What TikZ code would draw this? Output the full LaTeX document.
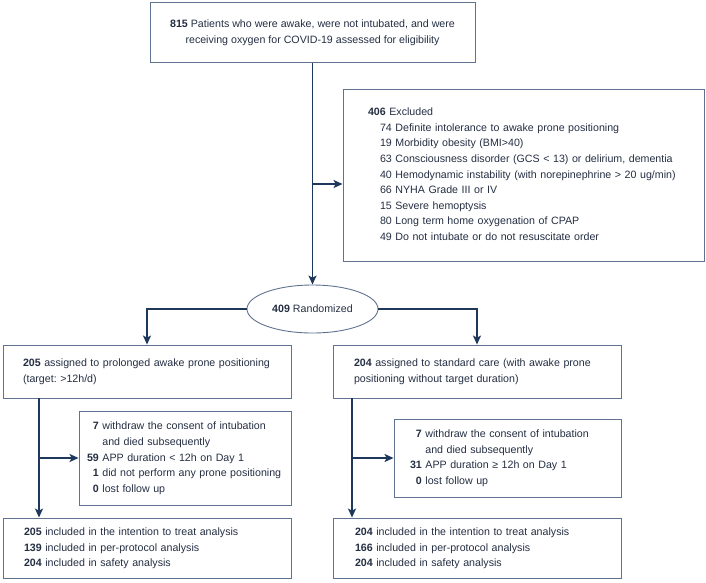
\documentclass[tikz,border=0pt]{standalone}
\usepackage{fontspec}
\setmainfont{Liberation Sans}
\usetikzlibrary{positioning,shapes.geometric,arrows.meta}
\definecolor{flowline}{RGB}{30,56,92}
\definecolor{boxline}{RGB}{96,114,144}
\definecolor{flowtext}{RGB}{36,46,66}
\newcommand{\num}[1]{\textbf{#1}}
\frenchspacing

\begin{document}
\begin{tikzpicture}[x=1pt,y=-1pt,
    font=\fontsize{10.65}{15.6}\selectfont, text=flowtext,
    box/.style={draw=boxline, line width=0.9pt, rectangle, inner ysep=0pt, align=left},
    flow/.style={draw=flowline, line width=1.3pt, -{Stealth[length=9pt,width=8pt,inset=2pt]}}]
    \useasboundingbox (0,0) rectangle (706,582);
    %%%%% SCREENING AND EXCLUSION
    \node[box, align=center, inner xsep=0pt, minimum width=325pt, minimum height=60pt] (SCREEN) at (312.5,32.5)
      {\begin{tabular}{@{}c@{}}
        \num{815} Patients who were awake, were not intubated, and were\\
        receiving oxygen for COVID-19 assessed for eligibility
       \end{tabular}};
    \node[box, inner xsep=25pt, text width=311pt, minimum height=172pt] (EXCL) at (523.5,175)
      {\begin{tabular}{@{}l@{}}
        \num{406} Excluded\\
        \hspace*{12pt}74 Definite intolerance to awake prone positioning\\
        \hspace*{12pt}19 Morbidity obesity (BMI>40)\\
        \hspace*{12pt}63 Consciousness disorder (GCS < 13) or delirium, dementia\\
        \hspace*{12pt}40 Hemodynamic instability (with norepinephrine > 20 ug/min)\\
        \hspace*{12pt}66 NYHA Grade III or IV\\
        \hspace*{12pt}15 Severe hemoptysis\\
        \hspace*{12pt}80 Long term home oxygenation of CPAP\\
        \hspace*{12pt}49 Do not intubate or do not resuscitate order
       \end{tabular}};
    \node[draw=boxline, line width=0.9pt, ellipse, inner sep=0pt, minimum width=131pt, minimum height=48pt] (RAND) at (312.5,309)
      {\num{409} Randomized};
    %%%%% THE TWO ARMS
    \node[box, inner xsep=20pt, text width=248pt, minimum height=53pt] (ARMA) at (147,371.5)
      {\begin{tabular}{@{}l@{}}
        \num{205} assigned to prolonged awake prone positioning\\
        (target: >12h/d)
       \end{tabular}};
    \node[box, inner xsep=21pt, text width=246pt, minimum height=53pt] (ARMB) at (477,371.5)
      {\begin{tabular}{@{}l@{}}
        \num{204} assigned to standard care (with awake prone\\
        positioning without target duration)
       \end{tabular}};
    \node[box, inner xsep=8pt, text width=196pt, minimum height=94pt] (LOSSA) at (185,458)
      {\begin{tabular}{@{}r@{\ }l@{}}
        \num{7}  & withdraw the consent of intubation\\
                 & and died subsequently\\
        \num{59} & APP duration < 12h on Day 1\\
        \num{1}  & did not perform any prone positioning\\
        \num{0}  & lost follow up
       \end{tabular}};
    \node[box, inner xsep=16pt, text width=195pt, minimum height=78pt] (LOSSB) at (507.5,458)
      {\begin{tabular}{@{}r@{\ }l@{}}
        \num{7}  & withdraw the consent of intubation\\
                 & and died subsequently\\
        \num{31} & APP duration ≥ 12h on Day 1\\
        \num{0}  & lost follow up
       \end{tabular}};
    %%%%% ANALYSIS
    \node[box, inner xsep=21pt, text width=246pt, minimum height=60pt] (ITTA) at (147,548)
      {\begin{tabular}{@{}r@{\ }l@{}}
        \num{205} & included in the intention to treat analysis\\
        \num{139} & included in per-protocol analysis\\
        \num{204} & included in safety analysis
       \end{tabular}};
    \node[box, inner xsep=22pt, text width=244pt, minimum height=60pt] (ITTB) at (477,548)
      {\begin{tabular}{@{}r@{\ }l@{}}
        \num{204} & included in the intention to treat analysis\\
        \num{166} & included in per-protocol analysis\\
        \num{204} & included in safety analysis
       \end{tabular}};
    %%%% CONNECTORS
    \coordinate (SPLIT) at (312.5,184);
    \coordinate (COLA) at (39,398);
    \coordinate (COLB) at (352,398);
    \draw[flow] (SCREEN.south) -- (RAND.north);
    \draw[flow] (SPLIT) -- (SPLIT -| EXCL.west);
    \draw[flow] (RAND.west) -| (ARMA.north);
    \draw[flow] (RAND.east) -| (ARMB.north);
    \draw[flow] (COLA) -- (COLA |- ITTA.north);
    \draw[flow] (COLA |- LOSSA.west) -- (LOSSA.west);
    \draw[flow] (COLB) -- (COLB |- ITTB.north);
    \draw[flow] (COLB |- LOSSB.west) -- (LOSSB.west);
\end{tikzpicture}
\end{document}
